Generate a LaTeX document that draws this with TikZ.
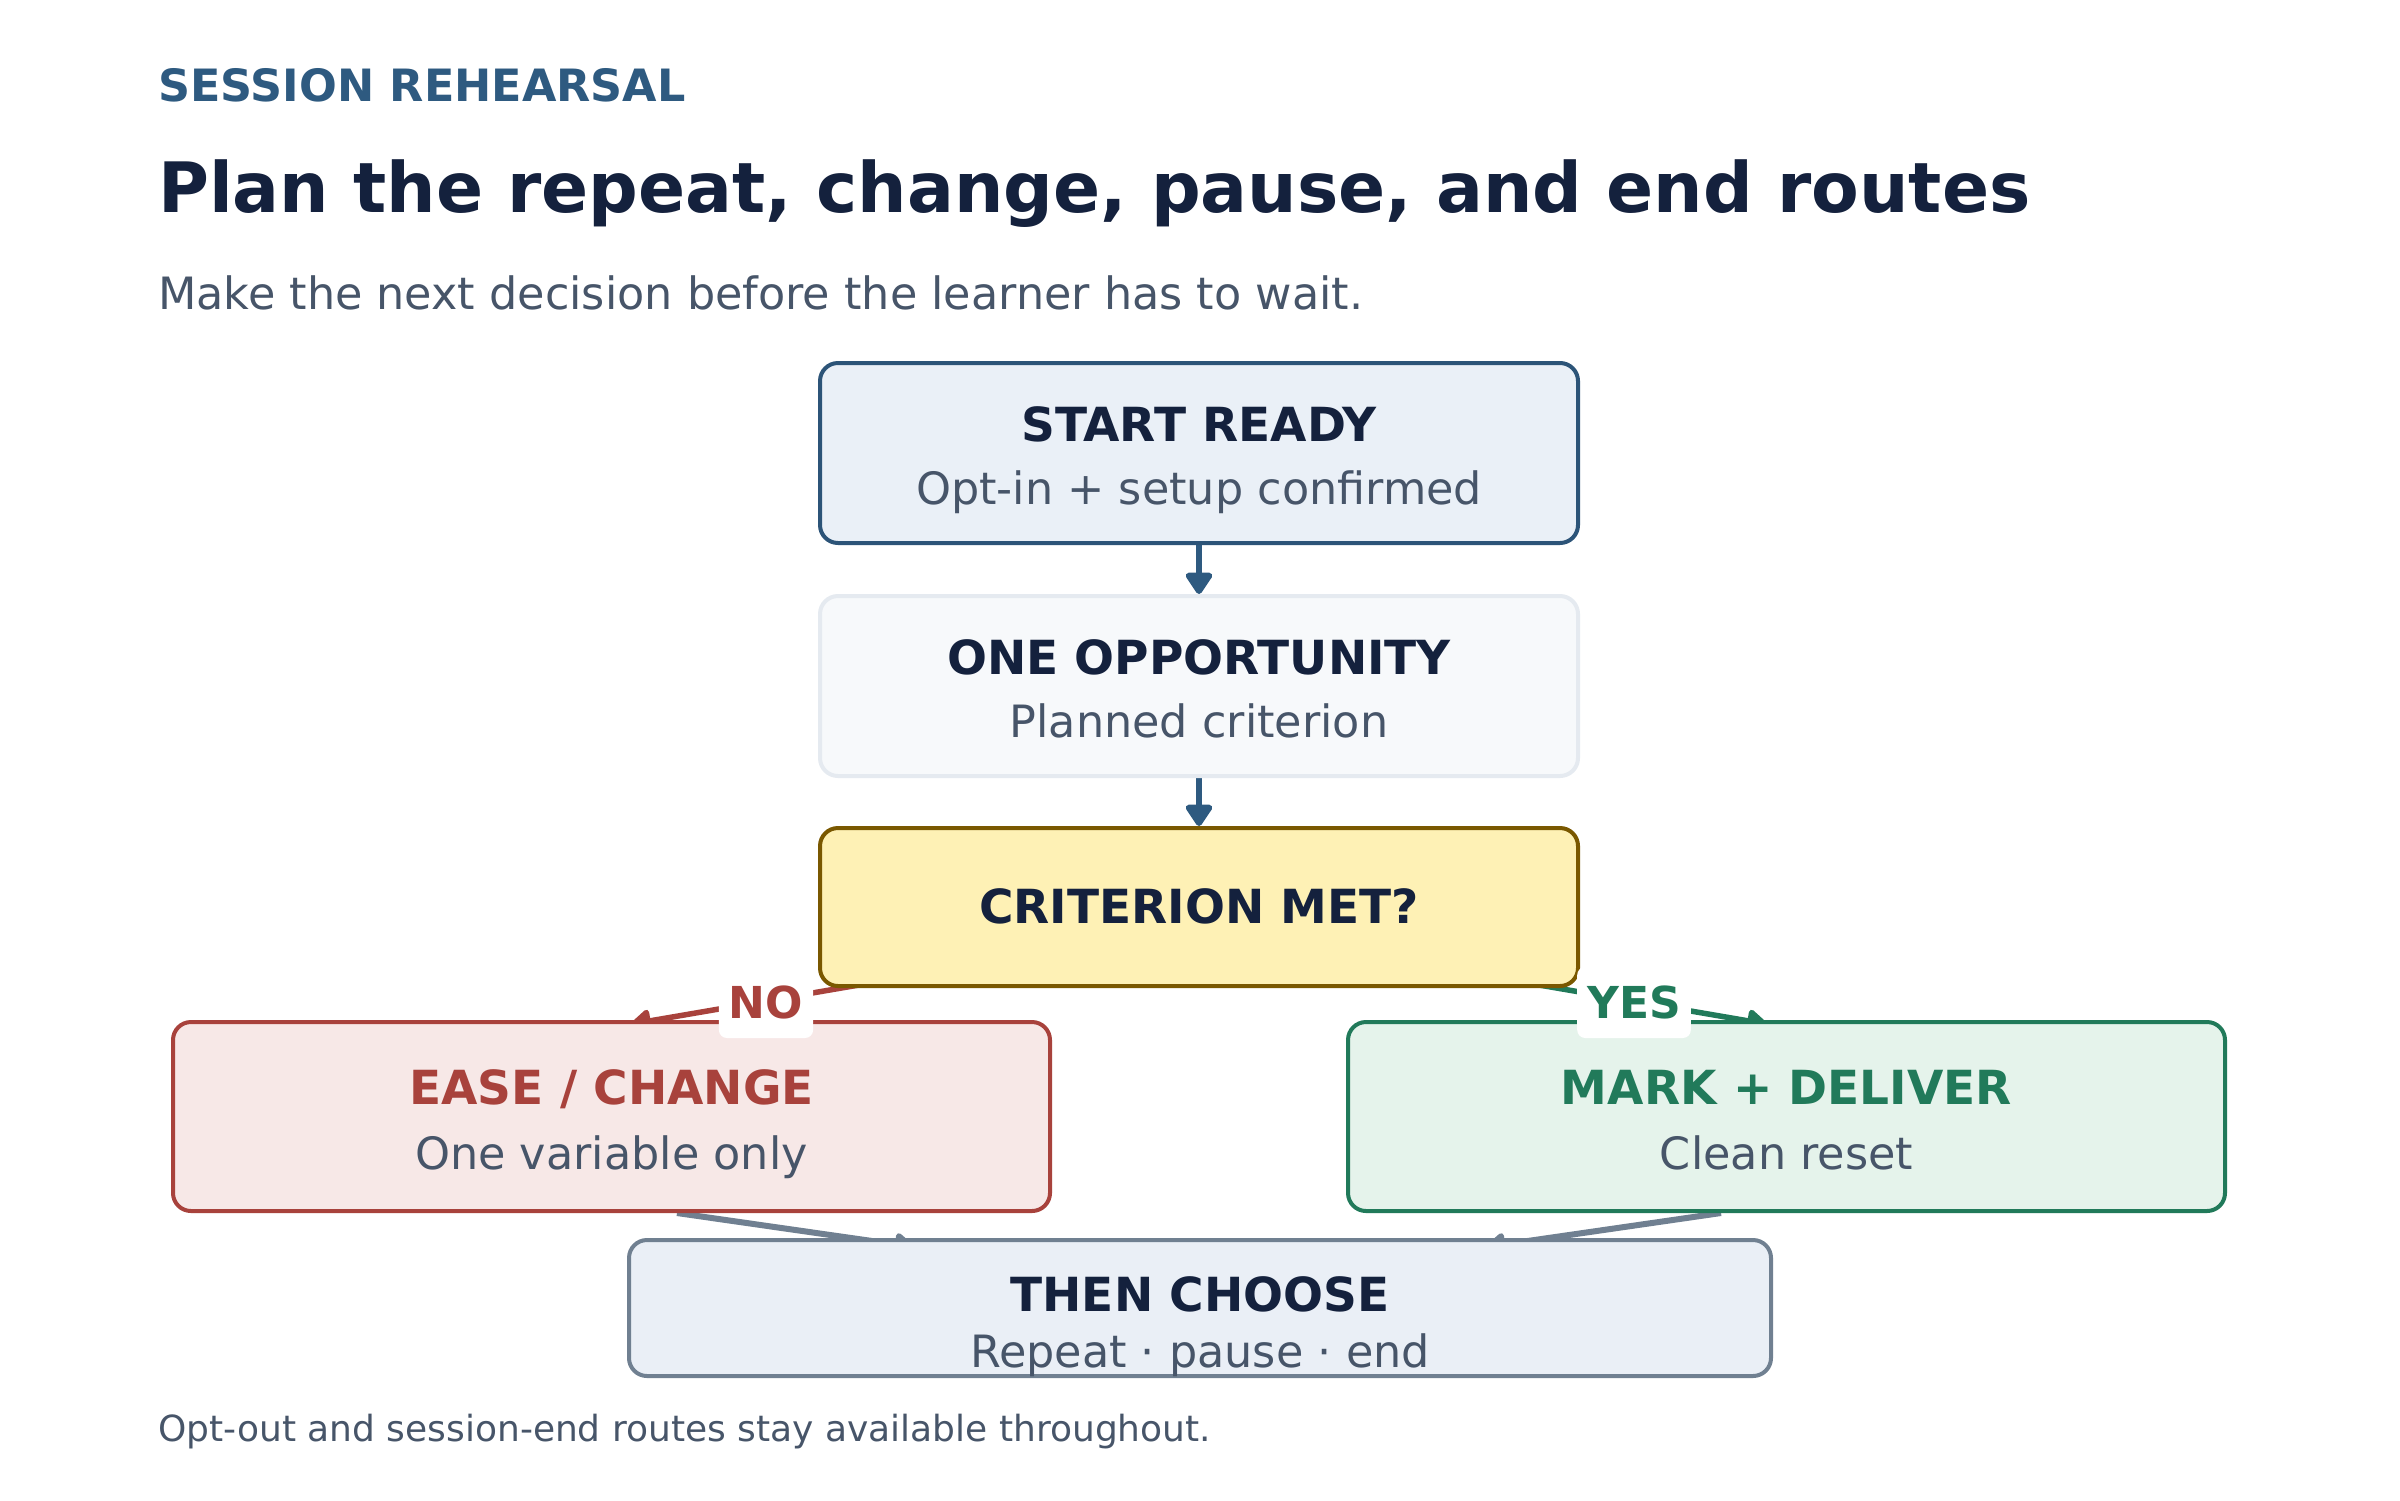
\documentclass[tikz,border=0pt]{standalone}
\usepackage{fontspec}
\setmainfont{DejaVu Sans}
\usetikzlibrary{arrows.meta,calc}
\definecolor{navy}{HTML}{14213D}
\definecolor{kick}{HTML}{2E5A80}
\definecolor{txtgray}{HTML}{475569}
\definecolor{startfill}{HTML}{EAF0F7}
\definecolor{startdraw}{HTML}{2C5478}
\definecolor{onefill}{HTML}{F7F9FB}
\definecolor{onedraw}{HTML}{E5EAF0}
\definecolor{critfill}{HTML}{FEF1B5}
\definecolor{critdraw}{HTML}{7A5800}
\definecolor{easefill}{HTML}{F7E8E7}
\definecolor{easedraw}{HTML}{A8423C}
\definecolor{markfill}{HTML}{E5F3EB}
\definecolor{markdraw}{HTML}{217A5A}
\definecolor{thenfill}{HTML}{EAEFF6}
\definecolor{thendraw}{HTML}{708091}
\newcommand\setfs[1]{\fontsize{#1pt}{#1pt}\selectfont}
\tikzset{
  box/.style={draw, rounded corners=18pt, line width=4pt, inner sep=0pt},
  boxtitle/.style={anchor=base, inner sep=0pt, text=navy, font=\setfs{47}\bfseries},
  boxsub/.style={anchor=base, inner sep=0pt, text=txtgray, font=\setfs{44.5}},
  bluearrow/.style={draw=kick, line width=6pt, -{Triangle[width=30pt,length=24pt,round]}},
  grayarrow/.style={draw=thendraw, line width=6pt, -{Triangle[width=26pt,length=22pt,round]}},
  branch/.style={line width=5.5pt, -{Triangle[width=26pt,length=22pt,round]}},
  tag/.style={fill=white, rounded corners=8pt, inner xsep=10pt, inner ysep=0pt, minimum height=71pt, font=\setfs{44}\bfseries},
  header/.style={anchor=base west, inner sep=0pt}
}
\begin{document}
\begin{tikzpicture}[x=1pt,y=-1pt]
\fill[white] (0,0) rectangle (2400,1500);
\useasboundingbox (0,0) rectangle (2400,1500);

% header texts
\node[header, text=kick, font=\setfs{44.5}\bfseries] (kicker) at (158,101) {SESSION REHEARSAL};
\node[header, text=navy, font=\setfs{69.5}\bfseries] (title) at (158,212) {Plan the repeat, change, pause, and end routes};
\node[header, text=txtgray, font=\setfs{44.5}] (subtitle) at (158,309) {Make the next decision before the learner has to wait.};
\node[header, text=txtgray, font=\setfs{36}] (footer) at (158,1441) {Opt-out and session-end routes stay available throughout.};

% box geometry (empty shapes first, so arrows can refer to them)
\path
  (1199,453) node[box, draw=none, minimum width=758pt, minimum height=180pt] (start) {}
  (1199,686) node[box, draw=none, minimum width=758pt, minimum height=180pt] (one) {}
  (1199,907) node[box, draw=none, minimum width=758pt, minimum height=158pt] (crit) {}
  (611.5,1116.5) node[box, draw=none, minimum width=877pt, minimum height=189pt] (ease) {}
  (1786.5,1116.5) node[box, draw=none, minimum width=877pt, minimum height=189pt] (mark) {}
  (1200,1308) node[box, draw=none, minimum width=1142pt, minimum height=136pt] (then) {};

% connector end points
\coordinate (noS) at ($(crit.south west)+(70,-8)$);
\coordinate (noE) at ($(ease.north)+(20,4)$);
\coordinate (yesS) at ($(crit.south east)+(-70,-8)$);
\coordinate (yesE) at ($(mark.north)+(-20,4)$);
\coordinate (easeOut) at ($(ease.south)+(65.5,0)$);
\coordinate (markOut) at ($(mark.south)+(-65.5,0)$);
\coordinate (thenInL) at ($(then.north)+(-286,9)$);
\coordinate (thenInR) at ($(then.north)+(286,9)$);

% connectors
\draw[bluearrow] (start.south) -- (one.north);
\draw[bluearrow] (one.south) -- (crit.north);
\draw[branch, draw=easedraw, fill=easedraw] (noS) -- (noE);
\draw[branch, draw=markdraw, fill=markdraw] (yesS) -- (yesE);
\draw[grayarrow, fill=thendraw] (easeOut) -- (thenInL);
\draw[grayarrow, fill=thendraw] (markOut) -- (thenInR);

% boxes drawn over the connectors
\node[box, fill=startfill, draw=startdraw, minimum width=758pt, minimum height=180pt] (startB) at (start.center) {};
\node[box, fill=onefill, draw=onedraw, minimum width=758pt, minimum height=180pt] (oneB) at (one.center) {};
\node[box, fill=critfill, draw=critdraw, minimum width=758pt, minimum height=158pt] (critB) at (crit.center) {};
\node[box, fill=easefill, draw=easedraw, minimum width=877pt, minimum height=189pt] (easeB) at (ease.center) {};
\node[box, fill=markfill, draw=markdraw, minimum width=877pt, minimum height=189pt] (markB) at (mark.center) {};
\node[box, fill=thenfill, draw=thendraw, minimum width=1142pt, minimum height=136pt] (thenB) at (then.center) {};

% box texts
\node[boxtitle] (startT) at ($(start.center)+(0,-12)$) {START READY};
\node[boxsub] (startS) at ($(start.center)+(0,51)$) {Opt-in + setup confirmed};
\node[boxtitle] (oneT) at ($(one.center)+(0,-12)$) {ONE OPPORTUNITY};
\node[boxsub] (oneS) at ($(one.center)+(0,51)$) {Planned criterion};
\node[boxtitle] (critT) at ($(crit.center)+(0,16)$) {CRITERION MET?};
\node[boxtitle, text=easedraw] (easeT) at ($(ease.center)+(0,-12.5)$) {EASE / CHANGE};
\node[boxsub] (easeS) at ($(ease.center)+(0,52.5)$) {One variable only};
\node[boxtitle, text=markdraw] (markT) at ($(mark.center)+(0,-12.5)$) {MARK + DELIVER};
\node[boxsub] (markS) at ($(mark.center)+(0,52.5)$) {Clean reset};
\node[boxtitle] (thenT) at ($(then.center)+(0,3)$) {THEN CHOOSE};
\node[boxsub] (thenS) at ($(then.center)+(0,59)$) {Repeat · pause · end};

% branch labels
\node[tag, text=easedraw] (noL) at ($(crit.south west)+(-52,14.5)$) {NO};
\node[tag, text=markdraw] (yesL) at ($(crit.south east)+(54,14.5)$) {YES};
\end{tikzpicture}
\end{document}
